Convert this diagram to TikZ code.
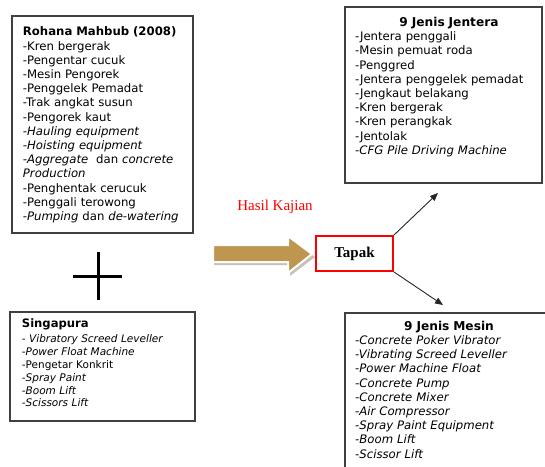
\documentclass[tikz,border=0pt]{standalone}
\usepackage{fontspec}
\setmainfont{DejaVu Sans}
\newfontfamily\serifff{Liberation Serif}
\usetikzlibrary{arrows.meta}
\definecolor{boxline}{HTML}{404040}
\definecolor{arrowbrown}{HTML}{BE9650}
\definecolor{shadowgray}{HTML}{C8C2B4}
\begin{document}
\begin{tikzpicture}[x=1pt,y=-1pt,
  panel/.style={draw=boxline, line width=1.2pt, rectangle, inner sep=0pt, outer sep=0pt, anchor=north west},
  listtext/.style={anchor=base west, inner sep=0pt, text width=#1, align=left,
                   font=\fontsize{11.7}{14.2}\selectfont},
  smalltext/.style={anchor=base west, inner sep=0pt, text width=#1, align=left,
                   font=\fontsize{10.5}{12.8}\selectfont},
  conn/.style={draw=black!85, line width=0.9pt, -{Triangle[length=8pt,width=6.5pt]}},
  plusline/.style={line width=3pt, draw=black}]
\useasboundingbox (0,0) rectangle (545,466);
\clip (0,0) rectangle (545,466);

% panels
\node[panel, minimum width=181, minimum height=217] (rohana) at (12,16) {};
\node[panel, minimum width=197, minimum height=176] (jentera) at (345,7) {};
\node[panel, minimum width=185, minimum height=109] (singapura) at (10,312) {};
\node[panel, minimum width=215, minimum height=170] (mesin) at (345,313) {};

% Rohana text
\node[listtext=175] (rohanatxt) at (22.7,35.9) {\textbf{Rohana Mahbub (2008)}\\
-Kren bergerak\\
-Pengentar cucuk\\
-Mesin Pengorek\\
-Penggelek Pemadat\\
-Trak angkat susun\\
-Pengorek kaut\\
\textit{-Hauling equipment}\\
\textit{-Hoisting equipment}\\
\textit{-Aggregate}\ \ dan \textit{concrete}\\
\textit{Production}\\
-Penghentak cerucuk\\
-Penggali terowong\\
\textit{-Pumping} dan \textit{de-watering}};

% Jentera text
\node[listtext=187.6] (jenteratxt) at (355,26.5) {\makebox[\linewidth]{\fontsize{12.2}{14.2}\selectfont\bfseries 9 Jenis Jentera}\\
-Jentera penggali\\
-Mesin pemuat roda\\
-Penggred\\
-Jentera penggelek pemadat\\
-Jengkaut belakang\\
-Kren bergerak\\
-Kren perangkak\\
-Jentolak\\
\textit{-CFG Pile Driving Machine}};

% Mesin text
\node[listtext=187.6] (mesintxt) at (355,330.2) {\makebox[\linewidth]{\fontsize{12.2}{14.2}\selectfont\bfseries 9 Jenis Mesin}\\
\itshape -Concrete Poker Vibrator\\
-Vibrating Screed Leveller\\
-Power Machine Float\\
-Concrete Pump\\
-Concrete Mixer\\
-Air Compressor\\
-Spray Paint Equipment\\
-Boom Lift\\
-Scissor Lift};

% Singapura text
\node[smalltext=170] (singtxt) at (21.7,327.5) {{\fontsize{11.6}{12.8}\selectfont\bfseries Singapura}\\[2.6pt]
\textit{- Vibratory Screed Leveller}\\
\textit{-Power Float Machine}\\
-Pengetar Konkrit\\
\textit{-Spray Paint}\\
\textit{-Boom Lift}\\
\textit{-Scissors Lift}};

% plus sign
\draw[plusline] (73,276) -- (122,276);
\draw[plusline] (98,252) -- (98,300);

% fat arrow
\fill[shadowgray] (214,248) -- (290,248) -- (290,239) -- (315,257) -- (290,276) -- (290,265) -- (214,265) -- cycle;
\filldraw[fill=arrowbrown, draw=white, line width=2pt, line join=miter]
  (213,245) -- (288,245) -- (288,236) -- (312,254) -- (288,273) -- (288,262) -- (213,262) -- cycle;

% label
\node[text=red, font=\serifff\fontsize{15}{15}\selectfont] (hasil) at (275,207) {Hasil Kajian};

% Tapak
\node[draw=red, line width=1.8pt, fill=white, minimum width=77, minimum height=35, inner sep=0pt,
      font=\serifff\bfseries\fontsize{15}{15}\selectfont] (tapak) at (354.5,253.5) {Tapak};

% connectors
\coordinate (jtip) at (438,193);
\coordinate (mtip) at (443,305);
\draw[conn] (tapak.north east) -- (jtip);
\draw[conn] (tapak.south east) -- (mtip);
\end{tikzpicture}
\end{document}
